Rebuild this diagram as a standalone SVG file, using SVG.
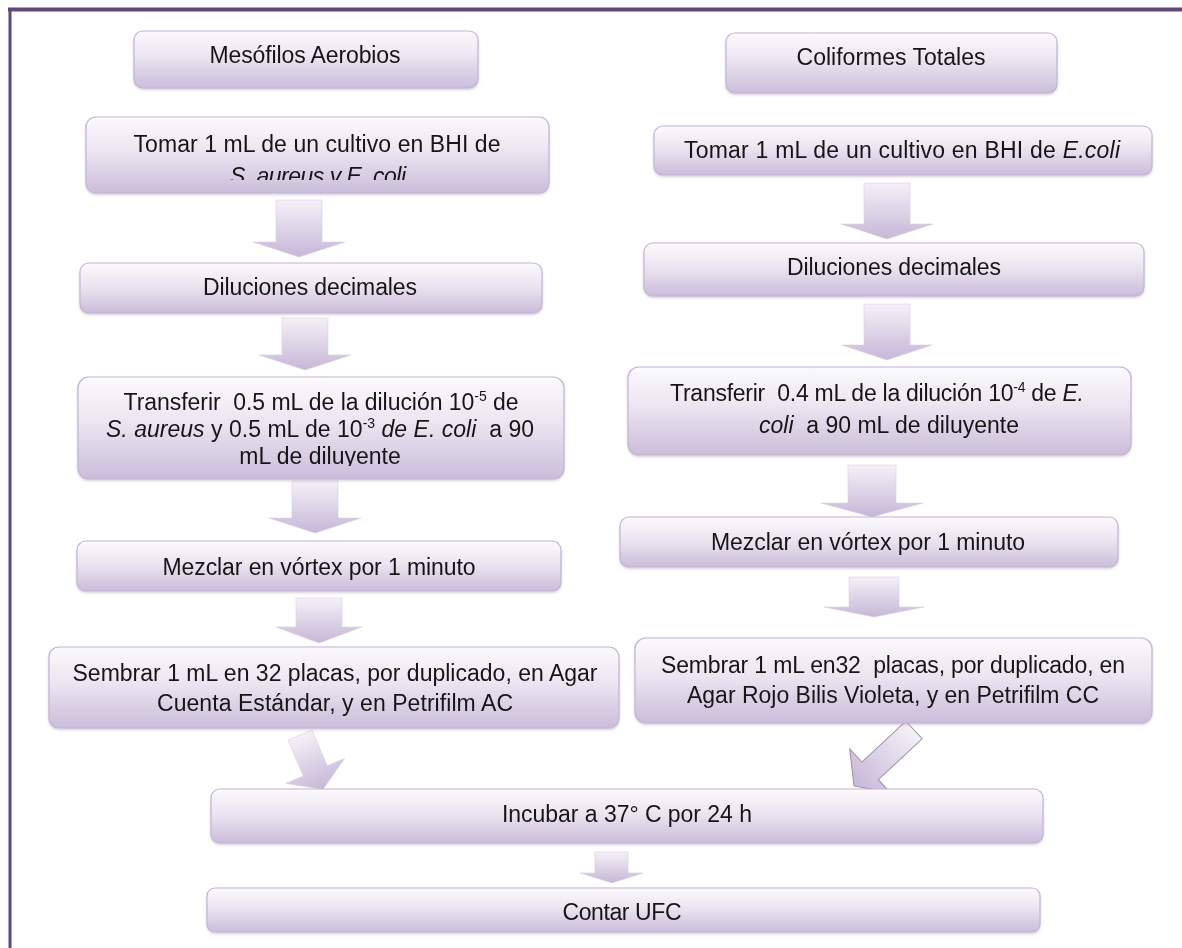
<svg xmlns="http://www.w3.org/2000/svg" width="1182" height="948" viewBox="0 0 1182 948">
<style>
.box{fill:url(#bg);stroke:#c4b4d6;stroke-width:1.2}
.arr{fill:url(#ag);stroke:#d8cfe2;stroke-width:0.6}
text{font-family:"Liberation Sans",Arial,sans-serif;font-size:23px;fill:#161616;text-anchor:middle}
.i{font-style:italic}
.sup{font-size:14px}
</style>
<defs>
<linearGradient id="bg" x1="0" y1="0" x2="0" y2="1">
<stop offset="0" stop-color="#fbfafc"/>
<stop offset="0.45" stop-color="#ebe5f1"/>
<stop offset="1" stop-color="#cbbdda"/>
</linearGradient>
<linearGradient id="ag" x1="0" y1="0" x2="0" y2="1">
<stop offset="0" stop-color="#f4f1f7"/>
<stop offset="1" stop-color="#c7b7d8"/>
</linearGradient>
<filter id="sh" x="-5%" y="-10%" width="110%" height="130%">
<feDropShadow dx="0" dy="1.5" stdDeviation="1" flood-color="#8a7a9a" flood-opacity="0.35"/>
</filter>
<clipPath id="clipT"><rect x="86" y="117" width="463" height="63"/></clipPath>
<clipPath id="clipX"><rect x="78" y="377" width="486" height="89"/></clipPath>
</defs>

<rect width="1182" height="948" fill="#ffffff"/>
<g id="frame" fill="none" stroke="#5f497a">
<line x1="8" y1="9.5" x2="1182" y2="9.5" stroke-width="4"/>
<line x1="10" y1="8" x2="10" y2="948" stroke-width="3"/>
</g>

<g id="connectors">
<path class="arr" d="M276,200 H322 V242 H345 L299,257 L253,242 H276 Z"/>
<path class="arr" d="M282,318 H328 V355 H351 L305,370 L259,355 H282 Z"/>
<path class="arr" d="M292,481 H338 V518 H361 L315,533 L269,518 H292 Z"/>
<path class="arr" d="M296,598 H342 V627 H362 L319,643 L276,627 H296 Z"/>
<path class="arr" d="M864,183 H910 V224 H933 L887,239 L841,224 H864 Z"/>
<path class="arr" d="M864,304 H910 V345 H932 L887,360 L842,345 H864 Z"/>
<path class="arr" d="M848,465 H896 V503 H923 L872,517 L821,503 H848 Z"/>
<path class="arr" d="M849,577 H899 V607 H924 L874,617 L824,607 H849 Z"/>
<path class="arr" d="M595,852 H628 V873 H643 L612,883 L580,873 H595 Z"/>
<path class="arr" transform="translate(300,735) rotate(-23)" d="M-13,0 H13 V39 H32 L0,59 L-32,39 H-13 Z"/>
<path class="arr" transform="translate(914,730) rotate(47)" d="M-12,0 H12 V60 H30 L0,82 L-30,60 H-12 Z" style="stroke:#9a8fa6;stroke-width:1"/>
</g>

<g id="nodes" filter="url(#sh)">
<g id="n1"><rect class="box" x="134" y="31" width="344" height="57" rx="9"/><text x="305" y="63" textLength="191" lengthAdjust="spacing">Mesófilos Aerobios</text></g>
<g id="n2"><rect class="box" x="86" y="117" width="463" height="76" rx="10"/><text x="317" y="152" textLength="367" lengthAdjust="spacing">Tomar 1 mL de un cultivo en BHI de</text><text class="i" x="318" y="184" textLength="176" lengthAdjust="spacing" clip-path="url(#clipT)">S. aureus y E. coli</text></g>
<g id="n3"><rect class="box" x="80" y="263" width="462" height="50" rx="9"/><text x="310" y="295" textLength="214" lengthAdjust="spacing">Diluciones decimales</text></g>
<g id="n4"><rect class="box" x="78" y="377" width="486" height="102" rx="11"/>
<text x="321" y="410" textLength="395" lengthAdjust="spacing" xml:space="preserve">Transferir  0.5 mL de la dilución 10<tspan class="sup" dy="-9">-5</tspan><tspan dy="9"> de</tspan></text>
<text x="320" y="437" textLength="428" lengthAdjust="spacing" xml:space="preserve"><tspan class="i">S. aureus</tspan> y 0.5 mL de 10<tspan class="sup" dy="-9">-3</tspan><tspan class="i" dy="9"> de E. coli</tspan>  a 90</text>
<text x="320" y="464" clip-path="url(#clipX)">mL de diluyente</text></g>
<g id="n5"><rect class="box" x="77" y="541" width="484" height="50" rx="9"/><text x="319" y="575" textLength="313" lengthAdjust="spacing">Mezclar en vórtex por 1 minuto</text></g>
<g id="n6"><rect class="box" x="49" y="647" width="570" height="81" rx="10"/><text x="335" y="681" textLength="525" lengthAdjust="spacing">Sembrar 1 mL en 32 placas, por duplicado, en Agar</text><text x="335" y="711" textLength="356" lengthAdjust="spacing">Cuenta Estándar, y en Petrifilm AC</text></g>

<g id="m1"><rect class="box" x="726" y="33" width="331" height="60" rx="9"/><text x="891" y="65" textLength="189" lengthAdjust="spacing">Coliformes Totales</text></g>
<g id="m2"><rect class="box" x="654" y="126" width="498" height="49" rx="9"/><text x="902" y="158" textLength="436" lengthAdjust="spacing">Tomar 1 mL de un cultivo en BHI de <tspan class="i">E.coli</tspan></text></g>
<g id="m3"><rect class="box" x="644" y="243" width="500" height="53" rx="9"/><text x="894" y="275" textLength="214" lengthAdjust="spacing">Diluciones decimales</text></g>
<g id="m4"><rect class="box" x="628" y="367" width="503" height="88" rx="11"/>
<text x="877" y="401" textLength="414" lengthAdjust="spacing" xml:space="preserve">Transferir  0.4 mL de la dilución 10<tspan class="sup" dy="-9">-4</tspan><tspan dy="9"> de </tspan><tspan class="i">E.</tspan></text>
<text x="889" y="433" xml:space="preserve"><tspan class="i">coli</tspan>  a 90 mL de diluyente</text></g>
<g id="m5"><rect class="box" x="620" y="517" width="498" height="50" rx="9"/><text x="868" y="550" textLength="314" lengthAdjust="spacing">Mezclar en vórtex por 1 minuto</text></g>
<g id="m6"><rect class="box" x="635" y="638" width="517" height="85" rx="11"/><text x="893" y="673" textLength="464" lengthAdjust="spacing" xml:space="preserve">Sembrar 1 mL en32  placas, por duplicado, en</text><text x="893" y="703" textLength="412" lengthAdjust="spacing">Agar Rojo Bilis Violeta, y en Petrifilm CC</text></g>

<g id="n7"><rect class="box" x="211" y="789" width="832" height="54" rx="9"/><text x="627" y="822" textLength="250" lengthAdjust="spacing">Incubar a 37° C por 24 h</text></g>
<g id="n8"><rect class="box" x="207" y="888" width="833" height="44" rx="8"/><text x="622" y="920" textLength="119" lengthAdjust="spacing">Contar UFC</text></g>
</g>
</svg>
